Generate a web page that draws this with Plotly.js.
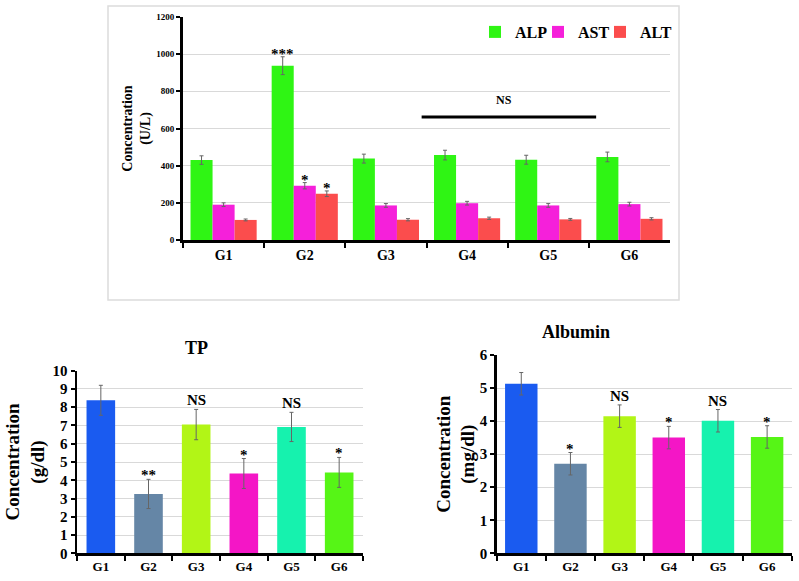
<!DOCTYPE html>
<html>
<head>
<meta charset="utf-8">
<script src="https://cdn.plot.ly/plotly-3.0.1.min.js"></script>
<style>html,body{margin:0;padding:0;background:#fff;}#chart{width:799px;height:581px;}</style>
</head>
<body>
<div id="chart"></div>
<script>
// ---------- data ----------
const groups = ['G1', 'G2', 'G3', 'G4', 'G5', 'G6'];

const alp = [430, 938, 438, 457, 432, 447];
const alpErr = [23, 48, 24, 26, 24, 26];
const ast = [190, 292, 186, 198, 186, 193];
const astErr = [10, 17, 10, 10, 10, 10];
const alt = [108, 249, 109, 117, 111, 114];
const altErr = [5, 15, 6, 6, 5, 6];
const enzymeSigG2 = ['***', '*', '*'];

const tp = [8.38, 3.25, 7.05, 4.37, 6.92, 4.43];
const tpErr = [0.82, 0.8, 0.83, 0.82, 0.8, 0.82];
const tpSig = ['', '**', 'NS', '*', 'NS', '*'];

const alb = [5.13, 2.71, 4.15, 3.5, 4.01, 3.52];
const albErr = [0.34, 0.34, 0.34, 0.34, 0.34, 0.34];
const albSig = ['', '*', 'NS', '*', 'NS', '*'];

const groupColors = ['#1a5bf0', '#6586a6', '#b2f516', '#f416c6', '#16f2ae', '#56f516'];

// ---------- styling ----------
const W = 799, H = 581;
const px = v => v / W;
const py = v => 1 - v / H;
const FONT = "'Liberation Serif', 'Times New Roman', Times, serif";
const errStyle = {type: 'data', visible: true, color: '#666', thickness: 1, width: 2};

const traces = [
  {type: 'bar', name: 'ALP', legend: 'legend', x: groups, y: alp, xaxis: 'x', yaxis: 'y',
   marker: {color: '#2ff514'}, error_y: Object.assign({array: alpErr}, errStyle)},
  {type: 'bar', name: 'AST', legend: 'legend2', x: groups, y: ast, xaxis: 'x', yaxis: 'y',
   marker: {color: '#f520da'}, error_y: Object.assign({array: astErr}, errStyle)},
  {type: 'bar', name: 'ALT', legend: 'legend3', x: groups, y: alt, xaxis: 'x', yaxis: 'y',
   marker: {color: '#fb4d4d'}, error_y: Object.assign({array: altErr}, errStyle)},
  {type: 'bar', name: 'TP', x: groups, y: tp, xaxis: 'x2', yaxis: 'y2', showlegend: false,
   width: 0.6, marker: {color: groupColors}, error_y: Object.assign({array: tpErr}, errStyle)},
  {type: 'bar', name: 'Albumin', x: groups, y: alb, xaxis: 'x3', yaxis: 'y3', showlegend: false,
   width: 0.66, marker: {color: groupColors}, error_y: Object.assign({array: albErr}, errStyle)}
];

function xAxis(domain, anchor, size, lw) {
  return {domain: domain, anchor: anchor, type: 'category', showgrid: false,
    showline: true, linecolor: '#000', linewidth: lw, ticks: 'outside', tickson: 'boundaries',
    ticklen: 5, tickwidth: 2, tickcolor: '#000',
    tickfont: {family: FONT, size: size, color: '#000', weight: 'bold'}, fixedrange: true};
}
function yAxis(domain, anchor, range, dtick, size, lw, title, tsize, standoff) {
  return {domain: domain, anchor: anchor, range: range, dtick: dtick, showgrid: true,
    gridcolor: '#d9d9d9', gridwidth: 1, zeroline: false, showline: true, linecolor: '#000',
    linewidth: lw, ticks: 'outside', ticklen: 4, tickwidth: 2, tickcolor: '#000',
    tickfont: {family: FONT, size: size, color: '#000', weight: 'bold'},
    title: {text: title, font: {family: FONT, size: tsize, color: '#000', weight: 'bold'}, standoff: standoff},
    fixedrange: true};
}

const annotations = [];
const sigFont = {family: FONT, size: 15, color: '#000', weight: 'bold'};
// top: significance for G2
[[alp, alpErr, -22], [ast, astErr, 0], [alt, altErr, 22]].forEach((s, i) => {
  annotations.push({xref: 'x', yref: 'y', x: groups[1], y: s[0][1] + s[1][1], xshift: s[2],
    yanchor: 'bottom', text: enzymeSigG2[i], showarrow: false, font: sigFont, yshift: -7});
});
annotations.push({xref: 'x', yref: 'y', x: 3.45, y: 753, text: 'NS', showarrow: false,
  font: {family: FONT, size: 12, color: '#000', weight: 'bold'}});
tp.forEach((v, i) => {
  if (tpSig[i]) annotations.push({xref: 'x2', yref: 'y2', x: groups[i], y: v + tpErr[i],
    yanchor: 'bottom', text: tpSig[i], showarrow: false, font: sigFont, yshift: tpSig[i] === 'NS' ? -1 : -6});
});
alb.forEach((v, i) => {
  if (albSig[i]) annotations.push({xref: 'x3', yref: 'y3', x: groups[i], y: v + albErr[i],
    yanchor: 'bottom', text: albSig[i], showarrow: false, font: sigFont, yshift: albSig[i] === 'NS' ? -1 : -6});
});
annotations.push({xref: 'paper', yref: 'paper', x: px(183), y: py(348), text: 'TP', showarrow: false,
  font: {family: FONT, size: 18, color: '#000', weight: 'bold'}});
annotations.push({xref: 'paper', yref: 'paper', x: px(612), y: py(332), text: 'Albumin', showarrow: false,
  font: {family: FONT, size: 18, color: '#000', weight: 'bold'}});

function legendAt(x) {
  return {orientation: 'h', x: px(x), y: py(32), xanchor: 'left', yanchor: 'middle',
    bgcolor: 'rgba(0,0,0,0)', borderwidth: 0, itemwidth: 30,
    font: {family: FONT, size: 16, color: '#000', weight: 'bold'}};
}

const layout = {
  width: W, height: H, margin: {l: 0, r: 0, t: 0, b: 0},
  paper_bgcolor: '#fff', plot_bgcolor: '#fff',
  barmode: 'group', bargap: 0.185, bargroupgap: 0,
  font: {family: FONT, color: '#000'},
  showlegend: true,
  legend: legendAt(475),
  legend2: legendAt(538),
  legend3: legendAt(600),
  xaxis: xAxis([px(183), px(670)], 'y', 14, 3),
  yaxis: yAxis([py(240), py(17)], 'x', [0, 1200], 200, 9, 3, 'Concentration<br>(U/L)', 14, 3),
  xaxis2: xAxis([px(77), px(363)], 'y2', 13, 2.5),
  yaxis2: yAxis([py(553.3), py(370.7)], 'x2', [0, 10], 1, 15, 2.5, 'Concentration<br>(g/dl)', 19, 3),
  xaxis3: xAxis([px(496.7), px(791.7)], 'y3', 13, 2.5),
  yaxis3: yAxis([py(553.3), py(355)], 'x3', [0, 6], 1, 15, 2.5, 'Concentration<br>(mg/dl)', 19, 0),
  shapes: [
    {type: 'rect', xref: 'paper', yref: 'paper', x0: px(108), x1: px(679), y0: py(300), y1: py(6),
     line: {color: '#dcdcdc', width: 1.5}, layer: 'below'},
    {type: 'line', xref: 'x', yref: 'y', x0: 2.44, x1: 4.59, y0: 662, y1: 662,
     line: {color: '#000', width: 3}}
  ],
  annotations: annotations
};

Plotly.newPlot('chart', traces, layout, {staticPlot: true, displayModeBar: false});
</script>
</body>
</html>
